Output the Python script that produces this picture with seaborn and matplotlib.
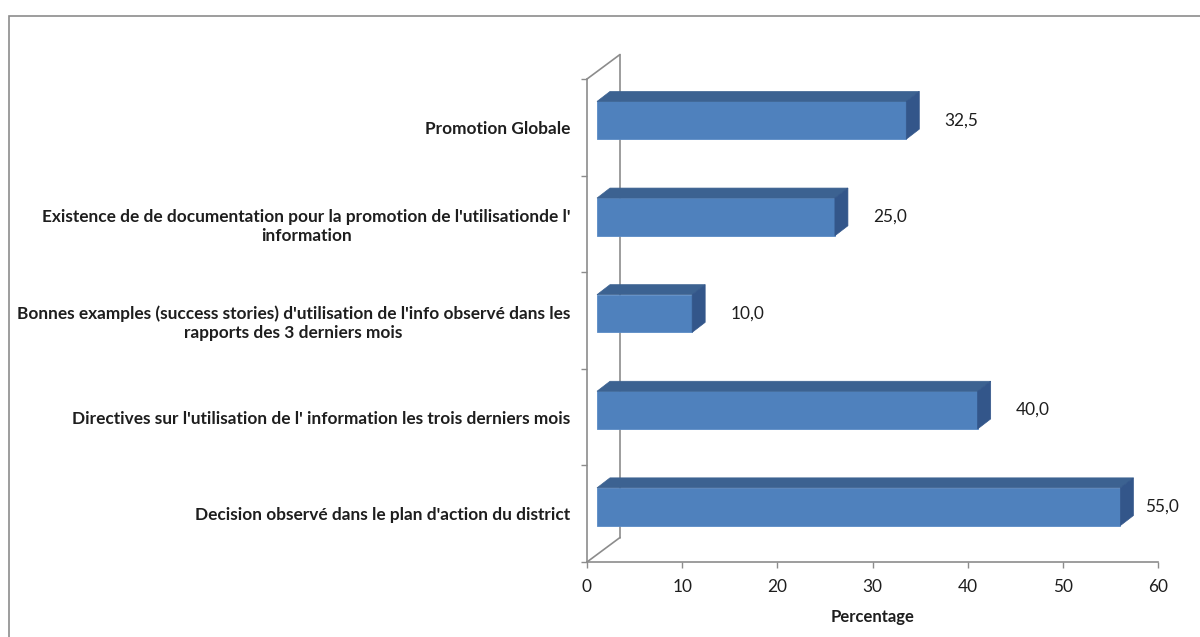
import matplotlib
matplotlib.use("Agg")
import matplotlib.pyplot as plt
import seaborn as sns
import pandas as pd
from matplotlib.transforms import ScaledTranslation
from matplotlib.patches import Polygon, Rectangle
from matplotlib.lines import Line2D

# ---------------- data ----------------
categories = [
    "Promotion Globale",
    "Existence de de documentation pour la promotion de l'utilisationde l'\ninformation",
    "Bonnes examples (success stories) d'utilisation de l'info observé dans les\nrapports des 3 derniers mois",
    "Directives sur l'utilisation de l' information les trois derniers mois",
    "Decision observé dans le plan d'action du district",
]
values = [32.5, 25.0, 10.0, 40.0, 55.0]
value_labels = ["32,5", "25,0", "10,0", "40,0", "55,0"]
xticks = [0, 10, 20, 30, 40, 50, 60]
xlabel = "Percentage"

# ---------------- style ----------------
sns.set_theme(style="white")
plt.rcParams["font.family"] = ["Lato", "DejaVu Sans"]

FRONT = "#4F81BD"
TOP = "#3C6291"
SIDE = "#33568A"
AXC = "#8C8C8C"
TXT = "#1E1E1E"

W, H = 1200, 637
DPI = 100
fig = plt.figure(figsize=(W / DPI, H / DPI), dpi=DPI)
fig.patch.set_facecolor("white")

# chart-area border
fig.add_artist(Rectangle((9 / W, -0.05), 1.2, (H - 15.5) / H + 0.05, transform=fig.transFigure,
                         fill=False, edgecolor=AXC, linewidth=1.2))

x_left, x_right = 587, 1158
y_bottom, y_top = 562, 79
ax = fig.add_axes([x_left / W, (H - y_bottom) / H, (x_right - x_left) / W, (y_bottom - y_top) / H])
ax.set_facecolor("none")

df = pd.DataFrame({"cat": categories, "val": values})
sns.barplot(data=df, y="cat", x="val", orient="h", color=FRONT, saturation=1,
            width=0.39, ax=ax, zorder=3)
ax.set_xlim(0, 60)
ax.set_ylim(4.5, -0.5)

# bar geometry: front face shifted into the 3D box, plus depth faces
shift = ScaledTranslation(10 / DPI, 7 / DPI, fig.dpi_scale_trans)
px_x = (x_right - x_left) / 60.0
px_y = (y_bottom - y_top) / 5.0
ddx = 13 / px_x
ddy = -10 / px_y  # y axis inverted: upward is smaller data value
for p in ax.patches:
    p.set_transform(ax.transData + shift)
    p.set_edgecolor("#5A8BC6")
    p.set_linewidth(0.6)
    x0, w, y0, h = p.get_x(), p.get_width(), p.get_y(), p.get_height()
    x1, yt, yb = x0 + w, y0, y0 + h
    top = Polygon([(x0, yt), (x0 + ddx, yt + ddy), (x1 + ddx, yt + ddy), (x1, yt)],
                  closed=True, facecolor=TOP, edgecolor=TOP, linewidth=0.5,
                  transform=ax.transData + shift, clip_on=False, zorder=3)
    side = Polygon([(x1, yt), (x1 + ddx, yt + ddy), (x1 + ddx, yb + ddy), (x1, yb)],
                   closed=True, facecolor=SIDE, edgecolor=SIDE, linewidth=0.5,
                   transform=ax.transData + shift, clip_on=False, zorder=3)
    ax.add_patch(top)
    ax.add_patch(side)

# value labels
for i, (v, lab) in enumerate(zip(values, value_labels)):
    off_px = min(65, (x_right + 4) - (x_left + v * px_x))
    ax.annotate(lab, xy=(v, i), xytext=(off_px * 0.72, 7 * 0.72), textcoords="offset points",
                ha="center", va="center", fontsize=12.4, color=TXT, annotation_clip=False)

# 3D walls (floor & side wall outlines)
depth = ScaledTranslation(33 / DPI, 24.5 / DPI, fig.dpi_scale_trans)
for yy in (0, 1):
    disp0 = ax.transAxes.transform((0, yy))
    disp1 = (ax.transAxes + depth).transform((0, yy))
    fig.add_artist(Line2D([disp0[0] / W, disp1[0] / W], [disp0[1] / H, disp1[1] / H],
                          transform=fig.transFigure, color=AXC, linewidth=1.2))
ax.add_line(Line2D([0, 0], [0, 1], transform=ax.transAxes + depth, color=AXC,
                   linewidth=1.2, clip_on=False, zorder=1))

# spines
for s in ["top", "right"]:
    ax.spines[s].set_visible(False)
for s in ["left", "bottom"]:
    ax.spines[s].set_color(AXC)
    ax.spines[s].set_linewidth(1.2)

# x ticks
ax.set_xticks(xticks)
ax.set_xticklabels([str(t) for t in xticks])
ax.tick_params(axis="x", which="major", direction="out", length=4.5, width=1.0,
               color=AXC, pad=8, labelsize=12.4, labelcolor=TXT, bottom=True)

# y ticks: labels at category centres, tick marks at boundaries
ax.set_yticks(range(len(categories)))
ax.set_yticklabels(categories)
for t in ax.get_yticklabels():
    t.set_multialignment("center")
    t.set_fontweight("bold")
ax.set_yticks([i - 0.5 for i in range(len(categories) + 1)], minor=True)
ax.tick_params(axis="y", which="major", length=0, pad=12, labelsize=12.4, labelcolor=TXT, left=True)
ax.tick_params(axis="y", which="minor", direction="out", length=4.5, width=1.0, color=AXC, left=True)

ax.set_ylabel("")
ax.set_xlabel(xlabel, fontsize=12, fontweight="bold", color=TXT, labelpad=10)

fig.savefig("out.png", dpi=DPI, facecolor="white")
